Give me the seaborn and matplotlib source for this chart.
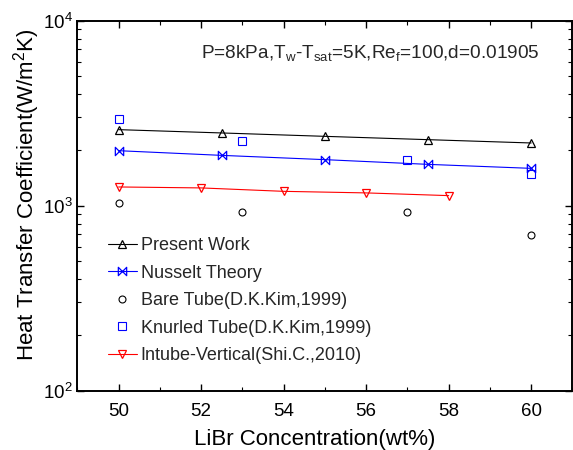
import matplotlib
matplotlib.use("Agg")
import matplotlib.pyplot as plt
import seaborn as sns
from matplotlib.path import Path
from matplotlib.ticker import LogLocator, MultipleLocator

# data
conc_present = [50, 52.5, 55, 57.5, 60]
htc_present = [2576, 2472, 2370, 2274, 2182]

conc_nusselt = [50, 52.5, 55, 57.5, 60]
htc_nusselt = [1982, 1870, 1773, 1672, 1591]

conc_bare = [50, 53, 57, 60]
htc_bare = [1034, 929, 920, 697]

conc_knurled = [50, 53, 57, 60]
htc_knurled = [2942, 2238, 1757, 1476]

conc_intube = [50, 52, 54, 56, 58]
htc_intube = [1262, 1247, 1195, 1172, 1133]

sns.set_theme(style="ticks")
plt.rcParams["font.family"] = ["Liberation Sans", "DejaVu Sans"]
plt.rcParams["mathtext.fontset"] = "custom"
plt.rcParams["mathtext.rm"] = "Liberation Sans"
plt.rcParams["mathtext.it"] = "Liberation Sans:italic"
plt.rcParams["mathtext.bf"] = "Liberation Sans:bold"

# bow-tie marker used by Origin for the Nusselt curve
bowtie = Path([(-1, -1), (1, 1), (1, -1), (-1, 1), (-1, -1)],
              [Path.MOVETO, Path.LINETO, Path.LINETO, Path.LINETO, Path.CLOSEPOLY])

fig = plt.figure(figsize=(5.73, 4.5), dpi=100)
ax = fig.add_axes([0.135, 0.132, 0.864, 0.822])

sns.lineplot(x=conc_present, y=htc_present, ax=ax, color="black", lw=0.8,
             marker="^", ms=6, mfc="none", mec="black", mew=0.9,
             label="Present Work")
sns.lineplot(x=conc_nusselt, y=htc_nusselt, ax=ax, color="blue", lw=0.8,
             marker=bowtie, ms=6, mfc="none", mec="blue", mew=0.9,
             label="Nusselt Theory")
sns.lineplot(x=conc_bare, y=htc_bare, ax=ax, color="black", linestyle="none",
             marker="o", ms=5, mfc="none", mec="black", mew=0.8,
             label="Bare Tube(D.K.Kim,1999)")
sns.lineplot(x=conc_knurled, y=htc_knurled, ax=ax, color="blue", linestyle="none",
             marker="s", ms=5.5, mfc="none", mec="blue", mew=0.8,
             label="Knurled Tube(D.K.Kim,1999)")
sns.lineplot(x=conc_intube, y=htc_intube, ax=ax, color="red", lw=0.8,
             marker="v", ms=6, mfc="none", mec="red", mew=0.9,
             label="Intube-Vertical(Shi.C.,2010)")

ax.set_yscale("log")
ax.set_xlim(49, 61)
ax.set_ylim(100, 10000)
ax.xaxis.set_major_locator(MultipleLocator(2))
ax.xaxis.set_minor_locator(MultipleLocator(1))
ax.yaxis.set_major_locator(LogLocator(base=10))
ax.yaxis.set_minor_locator(LogLocator(base=10, subs=range(2, 10)))

ax.tick_params(which="both", direction="in", top=True, right=True,
               labelsize=13.5, colors="black")
ax.tick_params(axis="x", which="both", pad=9)
ax.tick_params(which="major", length=5, width=1)
ax.tick_params(which="minor", length=3, width=0.8)
for sp in ax.spines.values():
    sp.set_linewidth(1.4)
    sp.set_color("black")

ax.set_xlabel("LiBr Concentration(wt%)", fontsize=16, color="black")
ax.set_ylabel("Heat Transfer Coefficient(W/m$^2$K)", fontsize=16, color="black")
ax.xaxis.set_label_coords(0.48, -0.103)
ax.yaxis.set_label_coords(-0.072, 0.529)

ax.text(0.25, 0.899,
        r"P=8kPa,T$_\mathrm{w}$-T$_\mathrm{sat}$=5K,Re$_\mathrm{f}$=100,d=0.01905",
        transform=ax.transAxes, fontsize=13.7, va="baseline", ha="left")

ax.legend(loc="upper left", bbox_to_anchor=(0.062, 0.415), frameon=False,
          fontsize=13, handlelength=1.6, handletextpad=0.2,
          labelspacing=0.58, borderaxespad=0, borderpad=0)

fig.savefig("out.png", dpi=100)
